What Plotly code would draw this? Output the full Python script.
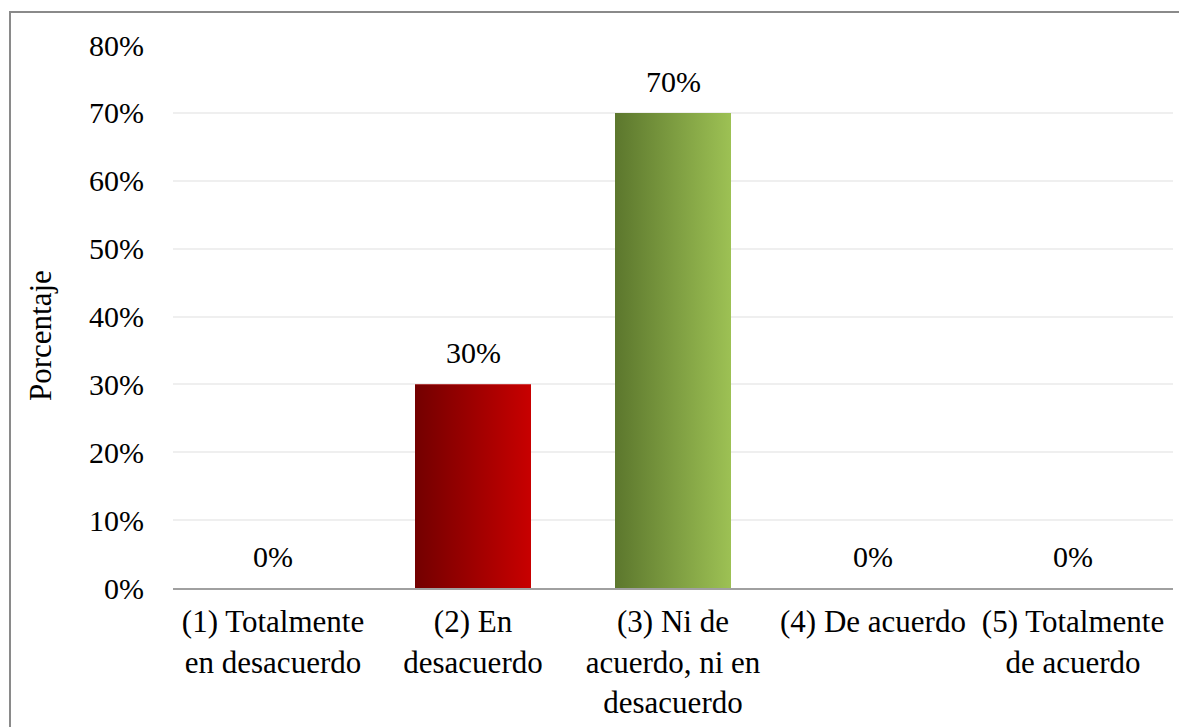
import plotly.graph_objects as go

categories = [
    "(1) Totalmente<br>en desacuerdo",
    "(2) En<br>desacuerdo",
    "(3) Ni de<br>acuerdo, ni en<br>desacuerdo",
    "(4) De acuerdo",
    "(5) Totalmente<br>de acuerdo",
]
values = [0.0, 0.30, 0.70, 0.0, 0.0]
gradients = [
    ["#730000", "#c80000"],
    ["#730000", "#c80000"],
    ["#5c772d", "#9dc154"],
    ["#5c772d", "#9dc154"],
    ["#5c772d", "#9dc154"],
]

FONT = "Liberation Serif, Times New Roman, serif"
BAR_WIDTH = 0.58
positions = list(range(len(categories)))

fig = go.Figure()

fig.add_trace(go.Bar(
    x=positions,
    y=values,
    width=BAR_WIDTH,
    marker=dict(color=[g[1] for g in gradients], line=dict(width=0)),
    showlegend=False,
))

# horizontal gradient fill on top of each non-empty bar
for pos, val, grad in zip(positions, values, gradients):
    if val <= 0:
        continue
    left, right = pos - BAR_WIDTH / 2, pos + BAR_WIDTH / 2
    fig.add_trace(go.Scatter(
        x=[left, right, right, left, left],
        y=[0, 0, val, val, 0],
        mode="lines",
        line=dict(width=0),
        fill="toself",
        fillgradient=dict(type="horizontal", colorscale=[[0, grad[0]], [1, grad[1]]]),
        hoverinfo="skip",
        showlegend=False,
    ))

# value labels above bars
for pos, val in zip(positions, values):
    fig.add_annotation(
        x=pos, y=val, text=f"{val:.0%}",
        showarrow=False, yanchor="bottom", yshift=13,
        font=dict(family=FONT, size=30, color="black"),
    )

# y-axis title (sits slightly below plot centre, like the original)
fig.add_annotation(
    x=-0.133, y=0.464, xref="paper", yref="paper",
    xanchor="center", yanchor="middle",
    text="Porcentaje", textangle=-90, showarrow=False,
    font=dict(family=FONT, size=31, color="black"),
)

fig.update_layout(
    width=1179,
    height=719,
    margin=dict(l=165, r=14, t=37, b=139),
    plot_bgcolor="white",
    paper_bgcolor="white",
    font=dict(family=FONT, size=30, color="black"),
    xaxis=dict(
        range=[-0.5, 4.5],
        tickmode="array",
        tickvals=positions,
        ticktext=categories,
        showgrid=False,
        zeroline=False,
        showline=True,
        linecolor="#a0a0a0",
        linewidth=2,
        ticks="",
        ticklabelstandoff=5,
        automargin=False,
        tickfont=dict(family=FONT, size=31, color="black"),
    ),
    yaxis=dict(
        range=[0, 0.8],
        dtick=0.1,
        tickformat=".0%",
        showgrid=True,
        gridcolor="#efefef",
        gridwidth=2,
        zeroline=False,
        showline=False,
        ticks="",
        ticklabelstandoff=28,
        automargin=False,
        tickfont=dict(family=FONT, size=30, color="black"),
    ),
    shapes=[dict(
        type="rect", xref="paper", yref="paper",
        x0=-0.163, x1=1.1, y0=-0.5, y1=1.061,
        line=dict(color="#8a8a8a", width=2),
        fillcolor="rgba(0,0,0,0)",
        layer="above",
    )],
)

fig.write_html("out.html")
